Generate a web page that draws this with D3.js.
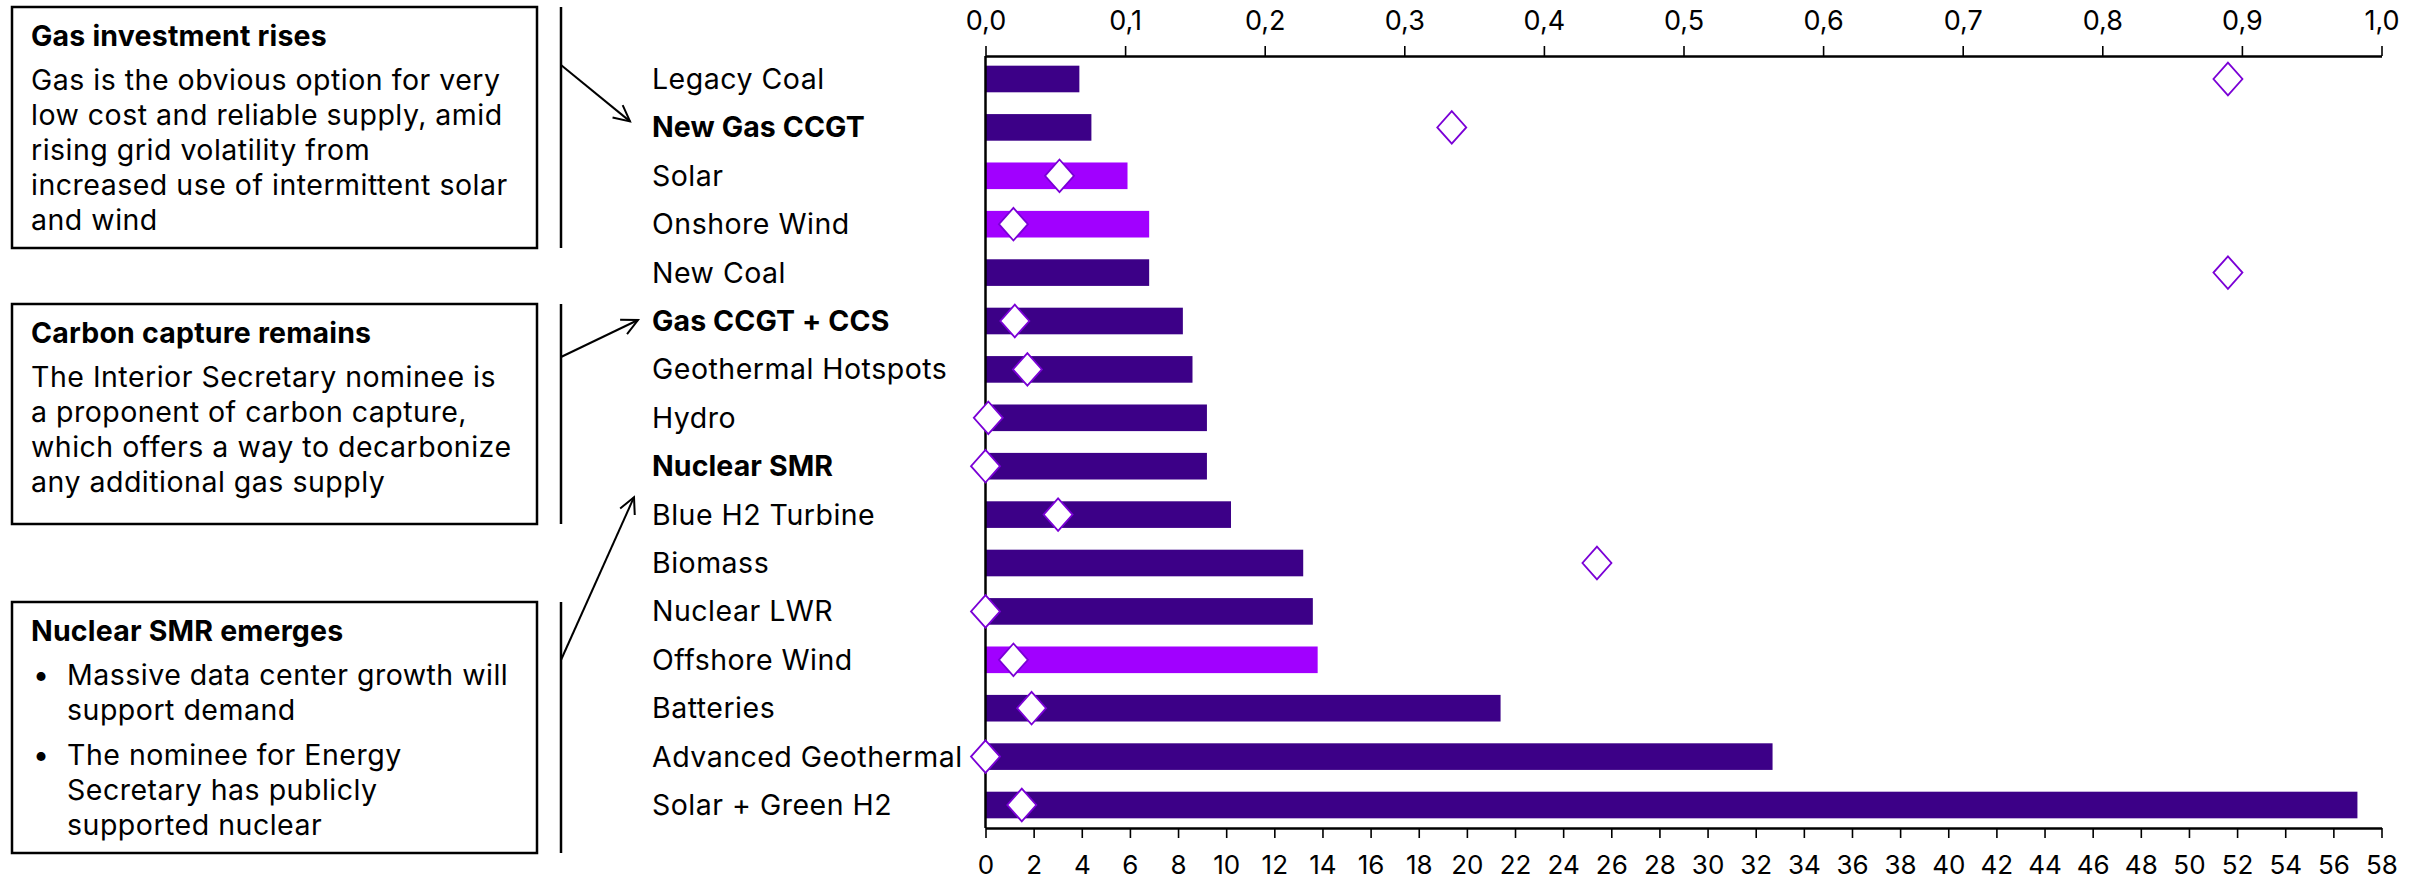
<!DOCTYPE html>
<html>
<head>
<meta charset="utf-8">
<script src="https://cdn.jsdelivr.net/npm/d3@7"></script>
<style>
  html, body { margin: 0; padding: 0; background: #ffffff; }
  svg { display: block; }
  text { font-family: "Inter", "Liberation Sans", sans-serif; fill: #000; }
</style>
</head>
<body>
<svg id="chart" width="2433" height="881"></svg>
<script>
// ---------- DATA ----------
const categories = ["Legacy Coal", "New Gas CCGT", "Solar", "Onshore Wind", "New Coal",
  "Gas CCGT + CCS", "Geothermal Hotspots", "Hydro", "Nuclear SMR", "Blue H2 Turbine",
  "Biomass", "Nuclear LWR", "Offshore Wind", "Batteries", "Advanced Geothermal", "Solar + Green H2"];
const barValues = [3.9, 4.4, 5.9, 6.8, 6.8, 8.2, 8.6, 9.2, 9.2, 10.2, 13.2, 13.6, 13.8, 21.4, 32.7, 57.0];
const diamondValues = [0.89, 0.334, 0.053, 0.02, 0.89, 0.021, 0.03, 0.002, 0.0, 0.052, 0.438, 0.0, 0.02, 0.033, 0.0, 0.026];
const renewableCats = ["Solar", "Onshore Wind", "Offshore Wind"];
const boldCats = ["New Gas CCGT", "Gas CCGT + CCS", "Nuclear SMR"];
const topTicks = [0, 0.1, 0.2, 0.3, 0.4, 0.5, 0.6, 0.7, 0.8, 0.9, 1.0];
const bottomTicks = [0,2,4,6,8,10,12,14,16,18,20,22,24,26,28,30,32,34,36,38,40,42,44,46,48,50,52,54,56,58];

const notes = [
  { title: "Gas investment rises",
    lines: [["Gas is the obvious option for very", "low cost and reliable supply, amid", "rising grid volatility from", "increased use of intermittent solar", "and wind"]],
    bullets: false, target: "New Gas CCGT" },
  { title: "Carbon capture remains",
    lines: [["The Interior Secretary nominee is", "a proponent of carbon capture,", "which offers a way to decarbonize", "any additional gas supply"]],
    bullets: false, target: "Gas CCGT + CCS" },
  { title: "Nuclear SMR emerges",
    lines: [["Massive data center growth will", "support demand"], ["The nominee for Energy", "Secretary has publicly", "supported nuclear"]],
    bullets: true, target: "Nuclear SMR" }
];

// ---------- LAYOUT ----------
const X0 = 985.5, X1 = 2381.5, YT = 56, YB = 828;
const darkPurple = "#3C0087", brightPurple = "#A100FF", diamondStroke = "#7A00D6";
const FS = "28.5px", LS = "0.5px";

const svg = d3.select("#chart");
const commaFmt = v => d3.format(".1f")(v).replace(".", ",");

const xBar = d3.scaleLinear().domain([0, 58]).range([X0, X1]);
const xDia = d3.scaleLinear().domain([0, 1]).range([X0, X1]);
const y = d3.scaleBand().domain(categories).range([YT, YB]).paddingInner(0.45).paddingOuter(0.2);

// bars
svg.append("g").selectAll("rect").data(categories).join("rect")
  .attr("x", xBar(0))
  .attr("y", d => y(d))
  .attr("width", (d, i) => xBar(barValues[i]) - xBar(0))
  .attr("height", y.bandwidth())
  .attr("fill", d => renewableCats.includes(d) ? brightPurple : darkPurple);

// category labels
svg.append("g").selectAll("text").data(categories).join("text")
  .attr("x", 652)
  .attr("y", d => y(d) + y.bandwidth() / 2)
  .attr("dy", "0.35em")
  .style("font-size", FS)
  .style("letter-spacing", d => boldCats.includes(d) ? "0.1px" : LS)
  .style("font-weight", d => boldCats.includes(d) ? 700 : 400)
  .text(d => d);

// top axis
const topAxis = d3.axisTop(xDia).tickValues(topTicks).tickFormat(commaFmt).tickSize(10).tickSizeOuter(0).tickPadding(16);
const gTop = svg.append("g").attr("transform", `translate(0,${YT})`).call(topAxis);
gTop.select(".domain").attr("stroke", "#000").attr("stroke-width", 2.5);
gTop.selectAll(".tick line").attr("stroke", "#000").attr("stroke-width", 1.6);
gTop.selectAll(".tick text").style("font-size", "27px").style("font-family", "Inter, sans-serif").attr("fill", "#000");

// bottom axis
const botAxis = d3.axisBottom(xBar).tickValues(bottomTicks).tickFormat(d3.format("d")).tickSize(10).tickSizeOuter(0).tickPadding(18);
const gBot = svg.append("g").attr("transform", `translate(0,${YB})`).call(botAxis);
gBot.select(".domain").attr("stroke", "#000").attr("stroke-width", 2.5);
gBot.selectAll(".tick line").attr("stroke", "#000").attr("stroke-width", 1.6);
gBot.selectAll(".tick text").style("font-size", "26px").style("font-family", "Inter, sans-serif").attr("fill", "#000");

// zero line
svg.append("line").attr("x1", xBar(0)).attr("x2", xBar(0)).attr("y1", YT).attr("y2", YB)
  .attr("stroke", "#000").attr("stroke-width", 2.5);

// diamonds
const dw = 14.5, dh = 16.3;
svg.append("g").selectAll("path").data(categories).join("path")
  .attr("d", (d, i) => {
    const cx = xDia(diamondValues[i]), cy = y(d) + y.bandwidth() / 2;
    return `M${cx},${cy - dh}L${cx + dw},${cy}L${cx},${cy + dh}L${cx - dw},${cy}Z`;
  })
  .attr("fill", "#fff").attr("stroke", diamondStroke).attr("stroke-width", 1.8);

// annotations
const boxes = [
  { top: 7, bottom: 248, arrowFrom: 65, tipDx: 630, tipDy: -6 },
  { top: 304, bottom: 524, arrowFrom: 357, tipDx: 638, tipDy: -1 },
  { top: 602, bottom: 853, arrowFrom: 660, tipDx: 634, tipDy: 31 }
];
const defs = svg.append("defs");
defs.append("marker").attr("id", "arr").attr("viewBox", "0 0 20 20").attr("refX", 18).attr("refY", 10)
  .attr("markerWidth", 20).attr("markerHeight", 20).attr("markerUnits", "userSpaceOnUse").attr("orient", "auto")
  .append("path").attr("d", "M2,2L18,10L2,18").attr("fill", "none").attr("stroke", "#000").attr("stroke-width", 2);

notes.forEach((n, k) => {
  const b = boxes[k];
  const g = svg.append("g");
  g.append("rect").attr("x", 12).attr("y", b.top).attr("width", 525).attr("height", b.bottom - b.top)
    .attr("fill", "none").attr("stroke", "#000").attr("stroke-width", 2.5);
  g.append("line").attr("x1", 561).attr("x2", 561).attr("y1", b.top).attr("y2", b.bottom)
    .attr("stroke", "#000").attr("stroke-width", 2.5);
  g.append("text").attr("x", 31).attr("y", b.top + 39).style("font-size", FS).style("font-weight", 700)
    .style("letter-spacing", "0.2px").text(n.title);
  let yy = b.top + 83;
  n.lines.forEach((grp, gi) => {
    if (gi > 0) yy += 10;
    grp.forEach((ln, li) => {
      if (n.bullets && li === 0) {
        g.append("text").attr("x", 33).attr("y", yy).style("font-size", FS).text("•");
      }
      g.append("text").attr("x", n.bullets ? 67 : 31).attr("y", yy).style("font-size", FS)
        .style("letter-spacing", LS).text(ln);
      yy += 35;
    });
  });
  // arrow to label
  const ty = y(n.target) + y.bandwidth() / 2;
  g.append("line").attr("x1", 561).attr("y1", b.arrowFrom)
    .attr("x2", b.tipDx).attr("y2", ty + b.tipDy)
    .attr("stroke", "#000").attr("stroke-width", 2).attr("marker-end", "url(#arr)");
});
</script>
</body>
</html>
